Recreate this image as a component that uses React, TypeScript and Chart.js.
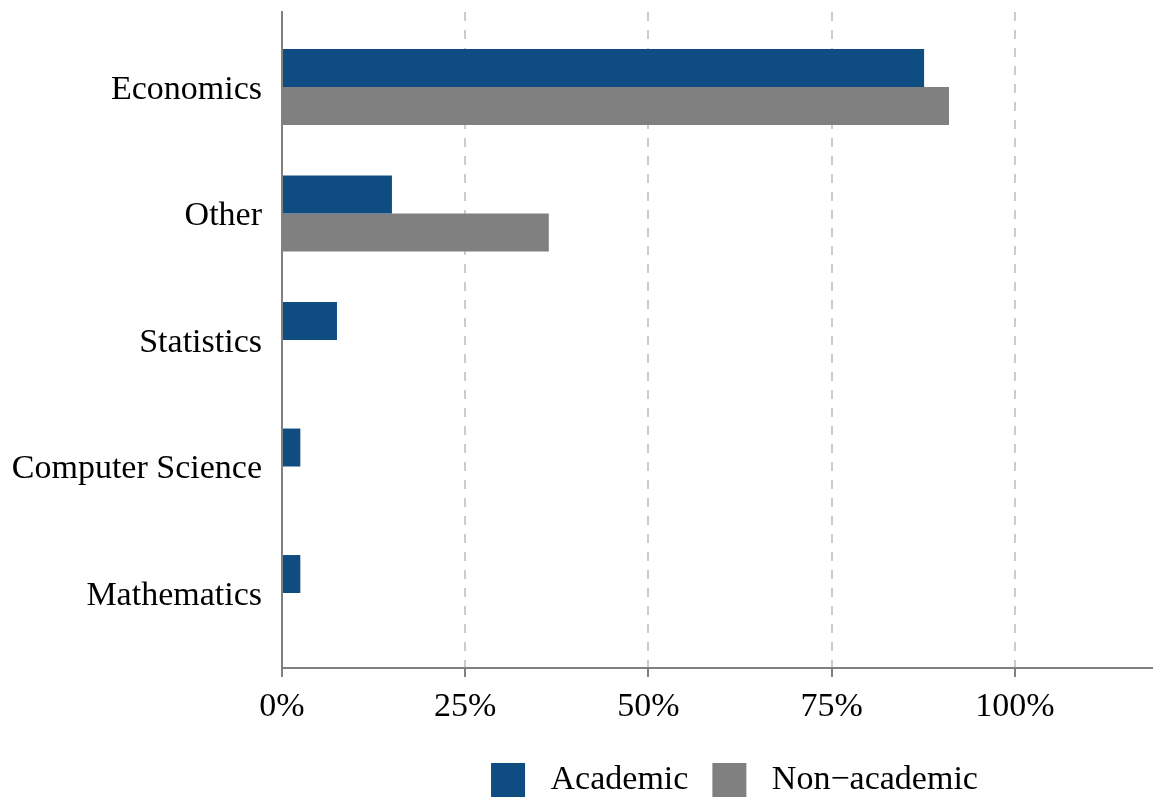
import { useEffect, useRef } from 'react';
import { Chart, registerables } from 'chart.js';

Chart.register(...registerables);

const categories = ['Economics', 'Other', 'Statistics', 'Computer Science', 'Mathematics'];
const academic = [87.6, 15.0, 7.5, 2.5, 2.5];
const nonAcademic = [91.0, 36.4, 0, 0, 0];
const seriesNames = ['Academic', 'Non\u2212academic'];
const xTicks = [0, 25, 50, 75, 100];

const FONT = { family: '"Liberation Serif", "Times New Roman", serif', size: 34 };
const LEGEND_SHIFT = 17;

const legendShift = {
  id: 'legendShift',
  afterLayout(chart: any) {
    if (chart.legend) {
      chart.legend.left += LEGEND_SHIFT;
      chart.legend.right += LEGEND_SHIFT;
    }
  },
};

export default function App() {
  const ref = useRef<HTMLCanvasElement | null>(null);

  useEffect(() => {
    if (!ref.current) return;
    const chart = new Chart(ref.current, {
      type: 'bar',
      data: {
        datasets: [
          {
            label: seriesNames[0],
            data: categories.map((_, i) => ({ x: academic[i], y: i })),
            backgroundColor: '#0f4c81',
            borderWidth: 0,
          },
          {
            label: seriesNames[1],
            data: categories.map((_, i) => ({ x: nonAcademic[i], y: i })),
            backgroundColor: '#808080',
            borderWidth: 0,
          },
        ],
      },
      plugins: [legendShift],
      options: {
        indexAxis: 'y',
        responsive: false,
        animation: false,
        layout: { padding: { top: 12, left: 0, right: 0, bottom: 0 } },
        datasets: { bar: { barPercentage: 1, categoryPercentage: 0.6 } },
        scales: {
          x: {
            type: 'linear',
            min: 0,
            max: 118.83,
            afterBuildTicks: (s: any) => {
              s.ticks = xTicks.map((v) => ({ value: v }));
            },
            afterFit: (s: any) => {
              s.height = 71;
              s.paddingLeft = 0;
              s.paddingRight = 0;
            },
            grid: {
              color: (c: any) => (c.tick && c.tick.value === 0 ? 'rgba(0,0,0,0)' : '#cccccc'),
              lineWidth: 2,
              drawTicks: true,
              tickLength: 9,
              tickColor: '#808080',
              tickWidth: 2,
            },
            border: { display: true, color: '#808080', width: 2, dash: [9, 9] },
            ticks: {
              callback: (v: any) => v + '%',
              font: FONT,
              color: '#000',
              padding: 10,
              maxRotation: 0,
              autoSkip: false,
            },
          },
          y: {
            type: 'linear',
            min: -0.593,
            max: 4.593,
            reverse: true,
            offset: false,
            bounds: 'data',
            grace: 0,
            afterBuildTicks: (s: any) => {
              s.ticks = categories.map((_, i) => ({ value: i }));
            },
            afterFit: (s: any) => {
              s.width = 282;
              s.paddingTop = 0;
              s.paddingBottom = 0;
            },
            grid: { display: false, drawTicks: false, offset: false },
            border: { display: true, color: '#808080', width: 2 },
            ticks: {
              callback: (v: any) => categories[v as number] ?? '',
              font: FONT,
              color: '#000',
              padding: 20,
              labelOffset: 3,
              autoSkip: false,
            },
          },
        },
        plugins: {
          tooltip: { enabled: false },
          legend: {
            position: 'bottom',
            fullSize: false,
            labels: {
              boxWidth: 34,
              boxHeight: 34,
              padding: 24,
              font: FONT,
              color: '#000',
              generateLabels: (ch: any) =>
                Chart.defaults.plugins.legend.labels
                  .generateLabels(ch)
                  .map((l: any) => ({ ...l, text: ' ' + l.text, lineWidth: 0 })),
            },
          },
        },
      } as any,
    });
    return () => chart.destroy();
  }, []);

  return (
    <div
      style={{
        position: 'fixed',
        left: 0,
        top: 0,
        width: 1153,
        height: 800,
        overflow: 'hidden',
        background: '#fff',
      }}
    >
      <canvas ref={ref} width={1153} height={807} style={{ display: 'block', width: 1153, height: 807 }} />
    </div>
  );
}
